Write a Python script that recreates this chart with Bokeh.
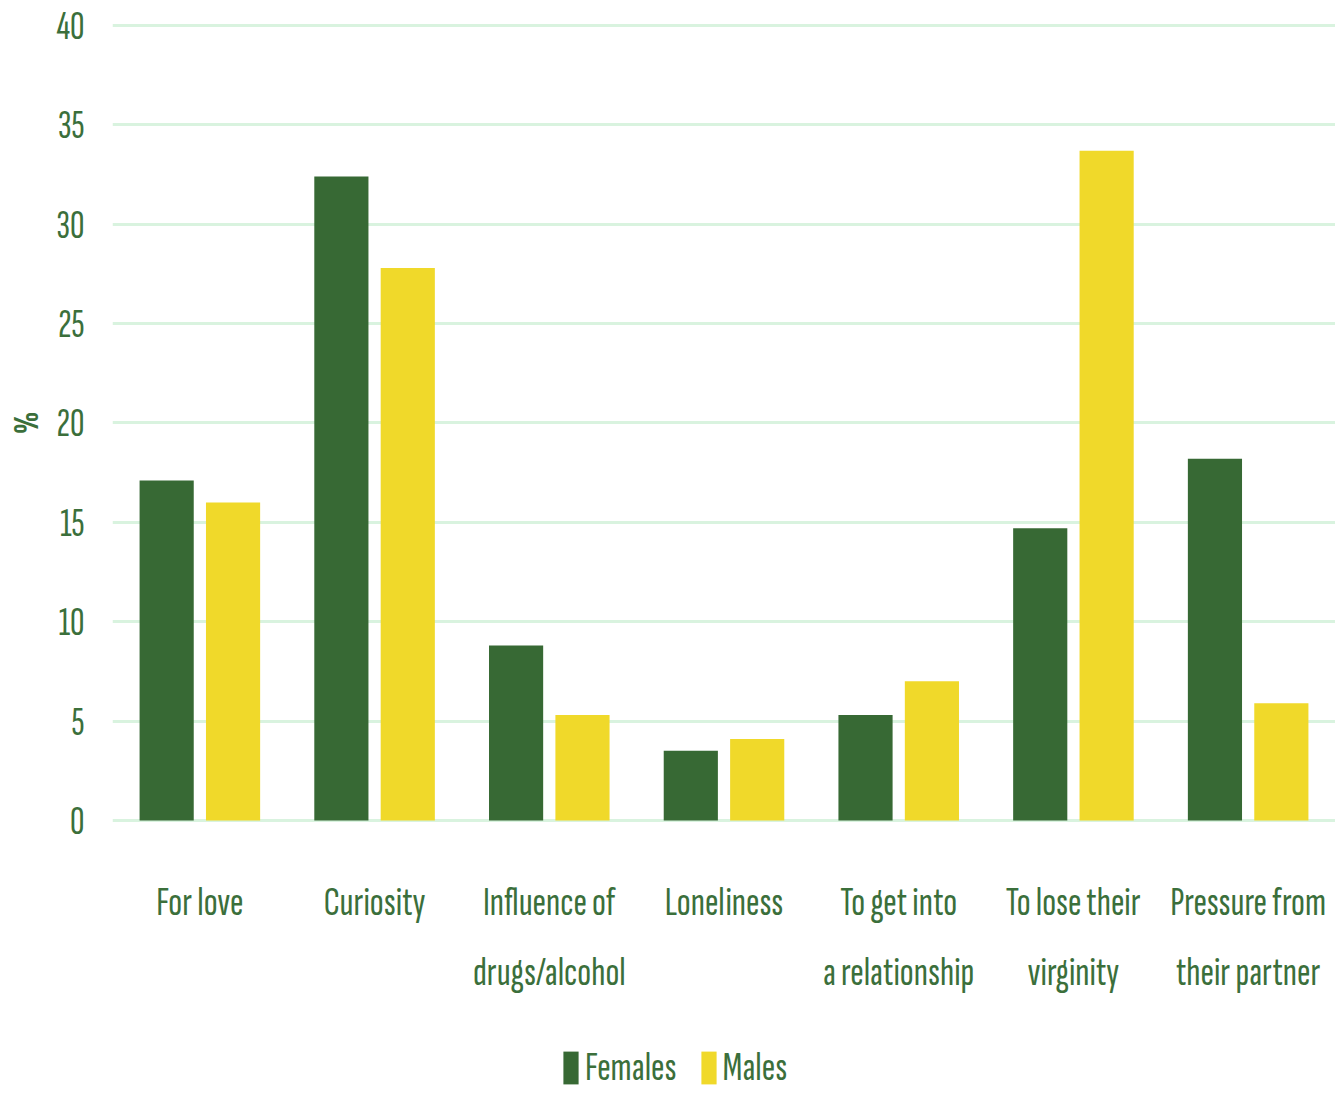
from bokeh.plotting import figure
from bokeh.models import FactorRange, Range1d, Legend, LegendItem, ColumnDataSource
from bokeh.transform import dodge
from bokeh.core.properties import value
from bokeh.embed import file_html
from bokeh.resources import INLINE

categories = ["For love", "Curiosity", "Influence of drugs/alcohol", "Loneliness",
              "To get into a relationship", "To lose their virginity", "Pressure from their partner"]
labels = ["For love", "Curiosity", "Influence of\ndrugs/alcohol", "Loneliness",
          "To get into\na relationship", "To lose their\nvirginity", "Pressure from\ntheir partner"]
females = [17.1, 32.4, 8.8, 3.5, 5.3, 14.7, 18.2]
males = [16.0, 27.8, 5.3, 4.1, 7.0, 33.7, 5.9]
y_ticks = [0, 5, 10, 15, 20, 25, 30, 35, 40]
y_label = "%"

FONT = "'Sofia Sans Extra Condensed', 'Fira Sans Extra Condensed', 'Encode Sans Compressed', 'Barlow Condensed', sans-serif"
TXT = "#3b6f3b"
GREEN = "#376934"
YELLOW = "#F0D92A"

p = figure(x_range=FactorRange(*categories), y_range=Range1d(-13.69, 40.1),
           width=1335, height=1094, output_backend="svg", toolbar_location=None,
           x_axis_location=None,
           min_border_left=112, min_border_right=0, min_border_top=23, min_border_bottom=2)
p.outline_line_color = None

src = ColumnDataSource(dict(cat=categories, lab=labels, f=females, m=males))
rf = p.vbar(x=dodge("cat", -0.19, range=p.x_range), top="f", width=0.31, source=src,
            fill_color=GREEN, line_color=None)
rm = p.vbar(x=dodge("cat", 0.19, range=p.x_range), top="m", width=0.31, source=src,
            fill_color=YELLOW, line_color=None)

p.text(x="cat", y=-2.9, text="lab", source=src, text_font=value(FONT),
       text_font_size="41px", text_color=TXT, text_align="center", text_baseline="top",
       text_line_height=1.42)

p.xgrid.grid_line_color = None
p.ygrid.grid_line_color = "#d9f3df"
p.ygrid.grid_line_width = 3
p.yaxis.ticker = y_ticks

ax = p.yaxis[0]
ax.axis_line_color = None
ax.major_tick_line_color = None
ax.minor_tick_line_color = None
ax.major_label_text_font = FONT
ax.major_label_text_color = TXT
ax.major_label_text_font_size = "40px"
ax.major_label_standoff = 22
# leading em-spaces lift the title to the middle of the 0-40 scale
ax.axis_label = "\u2003" * 7 + "\u2002" + y_label
ax.axis_label_text_font = FONT
ax.axis_label_text_font_style = "bold"
ax.axis_label_text_color = TXT
ax.axis_label_text_font_size = "36px"
ax.axis_label_standoff = 4

legend = Legend(items=[LegendItem(label="Females", renderers=[rf]),
                       LegendItem(label="Males", renderers=[rm])],
                orientation="horizontal", location=(449, 0),
                label_text_font=FONT, label_text_color=TXT, label_text_font_size="41px",
                glyph_width=19, glyph_height=41, spacing=22, label_standoff=5,
                border_line_color=None, background_fill_alpha=0, padding=0, margin=0)
p.add_layout(legend, "center")

open("out.html", "w").write(file_html(p, INLINE))
